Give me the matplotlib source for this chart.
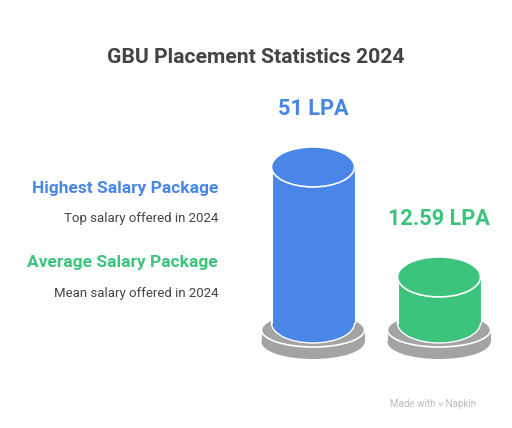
import matplotlib
matplotlib.use("Agg")
import matplotlib.pyplot as plt
from matplotlib.patches import Ellipse, Rectangle

title = "GBU Placement Statistics 2024"
categories = ["Highest Salary Package", "Average Salary Package"]
subtitles = ["Top salary offered in 2024", "Mean salary offered in 2024"]
values = [51, 12.59]
value_labels = ["51 LPA", "12.59 LPA"]
colors = ["#4A86E8", "#3CC47C"]

plt.rcParams['font.family'] = ['Roboto', 'DejaVu Sans']

fig = plt.figure(figsize=(5.12, 4.28), dpi=100)
ax = fig.add_axes([0, 0, 1, 1])
ax.set_xlim(0, 512)
ax.set_ylim(428, 0)
ax.axis('off')

ax.text(256, 57, title, ha='center', va='center', fontsize=15.2,
        fontweight='bold', color='#444444')

centers_x = [313, 439]
base_y = 323
rx, ry = 41.5, 20
prx, pry = 51.5, 17
plate_top = 330
plate_thick = 12
gray = '#A3A3A3'

for i, (v, c, lab) in enumerate(zip(values, colors, value_labels)):
    cx = centers_x[i]
    # plate
    ax.add_patch(Ellipse((cx, plate_top + plate_thick), 2 * prx, 2 * pry,
                         facecolor=gray, edgecolor='none', zorder=1))
    ax.add_patch(Rectangle((cx - prx, plate_top), 2 * prx, plate_thick,
                           facecolor=gray, edgecolor='none', zorder=1))
    ax.add_patch(Ellipse((cx, plate_top), 2 * prx, 2 * pry,
                         facecolor=gray, edgecolor='white', lw=1.2, zorder=2))
    # cylinder
    h = 10 + 2.864 * v
    top_y = base_y - h
    ax.add_patch(Ellipse((cx, base_y), 2 * rx, 2 * ry, facecolor=c,
                         edgecolor='white', lw=1.0, zorder=3))
    ax.add_patch(Rectangle((cx - rx, top_y), 2 * rx, h, facecolor=c,
                           edgecolor='none', zorder=4))
    ax.plot([cx - rx, cx - rx], [top_y, base_y], color='white', lw=0.8, zorder=4)
    ax.plot([cx + rx, cx + rx], [top_y, base_y], color='white', lw=0.8, zorder=4)
    ax.add_patch(Ellipse((cx, top_y), 2 * rx, 2 * ry, facecolor=c,
                         edgecolor='white', lw=1.2, zorder=5))
    ax.text(cx, top_y - ry - 38, lab, ha='center', va='center', fontsize=15.7,
            fontweight='bold', color=c)

label_y = [188, 262]
sub_y = [218, 293]
for i in range(2):
    ax.text(218, label_y[i], categories[i], ha='right', va='center',
            fontsize=12.5, fontweight='bold', color=colors[i])
    ax.text(218, sub_y[i], subtitles[i], ha='right', va='center',
            fontsize=9.5, color='#444444')

ax.text(476, 404, "Made with \u2248 Napkin", ha='right', va='center',
        fontsize=7, color='#BBBBBB')

fig.savefig("out.png", dpi=100)
